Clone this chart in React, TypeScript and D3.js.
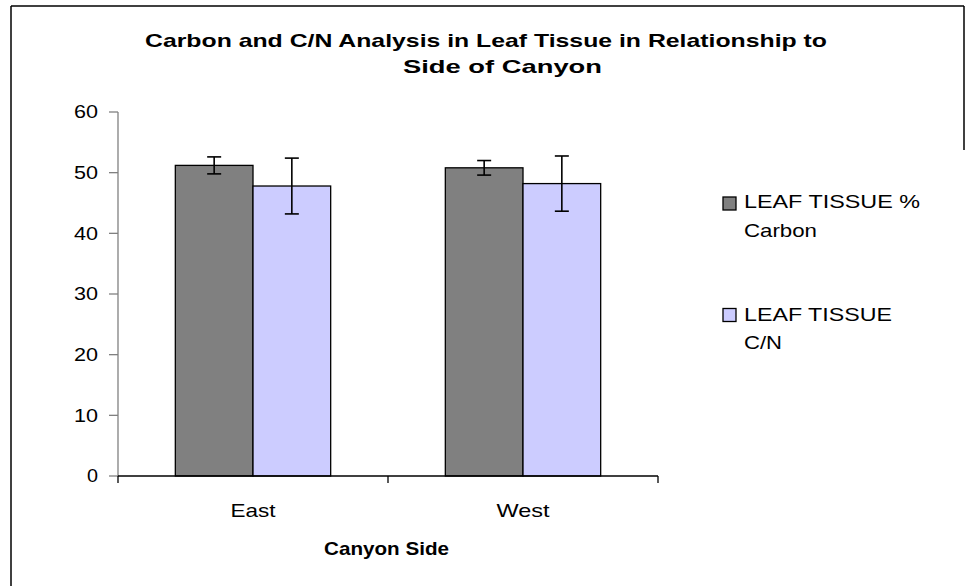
import React from "react";
import * as d3 from "d3";

const categories = ["East", "West"];
const seriesNames = ["LEAF TISSUE % Carbon", "LEAF TISSUE C/N"];
const carbonValues = [51.2, 50.8];
const carbonErrors = [1.4, 1.2];
const cnValues = [47.8, 48.2];
const cnErrors = [4.6, 4.55];
const yTicks = [0, 10, 20, 30, 40, 50, 60];
const colors = ["#808080", "#CCCCFF"];

const FONT = "'Liberation Sans', Arial, Helvetica, sans-serif";

export default function App() {
  const x = d3.scaleBand<string>().domain(categories).range([118, 658]).padding(0);
  const inner = d3
    .scaleBand<string>()
    .domain(seriesNames)
    .range([0, x.bandwidth()])
    .paddingInner(0)
    .paddingOuter(0.738);
  const y = d3.scaleLinear().domain([0, 60]).range([476, 112]);

  const series = [
    { name: seriesNames[0], values: carbonValues, errors: carbonErrors, color: colors[0] },
    { name: seriesNames[1], values: cnValues, errors: cnErrors, color: colors[1] },
  ];

  const tickLabelLen: Record<string, number> = { "0": 11 };

  return (
    <svg
      width={977}
      height={586}
      style={{ position: "absolute", left: 0, top: 0, background: "#fff" }}
      fontFamily={FONT}
    >
      <rect x={0} y={0} width={977} height={586} fill="#fff" />
      {/* frame */}
      <line x1={11} y1={6} x2={11} y2={586} stroke="#000" strokeWidth={1.5} />
      <line x1={11} y1={6} x2={964} y2={6} stroke="#000" strokeWidth={1.5} />
      <line x1={964} y1={6} x2={964} y2={150} stroke="#000" strokeWidth={1.5} />

      {/* title */}
      <text x={145} y={46.5} fontSize={19} fontWeight="bold" textLength={682} lengthAdjust="spacingAndGlyphs">
        Carbon and C/N Analysis in Leaf Tissue in Relationship to
      </text>
      <text x={403} y={73} fontSize={19} fontWeight="bold" textLength={199} lengthAdjust="spacingAndGlyphs">
        Side of Canyon
      </text>

      {/* bars */}
      {series.map((s) =>
        categories.map((c, i) => {
          const bx = (x(c) as number) + (inner(s.name) as number);
          const bw = inner.bandwidth();
          const v = s.values[i];
          return (
            <rect
              key={s.name + c}
              x={bx}
              y={y(v)}
              width={bw}
              height={y(0) - y(v)}
              fill={s.color}
              stroke="#000"
              strokeWidth={1.3}
            />
          );
        })
      )}

      {/* error bars */}
      {series.map((s) =>
        categories.map((c, i) => {
          const cx = (x(c) as number) + (inner(s.name) as number) + inner.bandwidth() / 2;
          const v = s.values[i];
          const e = s.errors[i];
          return (
            <g key={"e" + s.name + c} stroke="#000" strokeWidth={1.6}>
              <line x1={cx} x2={cx} y1={y(v + e)} y2={y(v - e)} />
              <line x1={cx - 7} x2={cx + 7} y1={y(v + e)} y2={y(v + e)} />
              <line x1={cx - 7} x2={cx + 7} y1={y(v - e)} y2={y(v - e)} />
            </g>
          );
        })
      )}

      {/* y axis */}
      <line x1={118} x2={118} y1={y(60)} y2={y(0)} stroke="#808080" strokeWidth={1.3} />
      {yTicks.map((t) => (
        <g key={"yt" + t}>
          <line x1={109} x2={118} y1={y(t)} y2={y(t)} stroke="#808080" strokeWidth={1.3} />
          <text
            x={98}
            y={y(t)}
            dy="0.36em"
            fontSize={18}
            textAnchor="end"
            textLength={tickLabelLen[String(t)] ?? 24}
            lengthAdjust="spacingAndGlyphs"
          >
            {t}
          </text>
        </g>
      ))}

      {/* x axis */}
      <line x1={118} x2={658} y1={y(0)} y2={y(0)} stroke="#000" strokeWidth={1.3} />
      {[118, ...categories.map((c) => (x(c) as number) + x.bandwidth())].map((tx, i) => (
        <line key={"xt" + i} x1={tx} x2={tx} y1={y(0)} y2={y(0) + 7} stroke="#000" strokeWidth={1.3} />
      ))}
      {categories.map((c, i) => (
        <text
          key={"xl" + c}
          x={(x(c) as number) + x.bandwidth() / 2}
          y={516.5}
          fontSize={19}
          textAnchor="middle"
          textLength={i === 0 ? 45 : 53}
          lengthAdjust="spacingAndGlyphs"
        >
          {c}
        </text>
      ))}
      <text x={386.5} y={555} fontSize={19} fontWeight="bold" textAnchor="middle" textLength={125} lengthAdjust="spacingAndGlyphs">
        Canyon Side
      </text>

      {/* legend */}
      <g>
        <rect x={723} y={197} width={13} height={13} fill={colors[0]} stroke="#000" strokeWidth={1.3} />
        <text x={744} y={207.7} fontSize={19} textLength={176} lengthAdjust="spacingAndGlyphs">
          LEAF TISSUE %
        </text>
        <text x={744} y={236.7} fontSize={19} textLength={73} lengthAdjust="spacingAndGlyphs">
          Carbon
        </text>
        <rect x={723} y={308.5} width={13} height={13} fill={colors[1]} stroke="#000" strokeWidth={1.3} />
        <text x={744} y={320.7} fontSize={19} textLength={148} lengthAdjust="spacingAndGlyphs">
          LEAF TISSUE
        </text>
        <text x={744} y={349} fontSize={19} textLength={38} lengthAdjust="spacingAndGlyphs">
          C/N
        </text>
      </g>
    </svg>
  );
}
